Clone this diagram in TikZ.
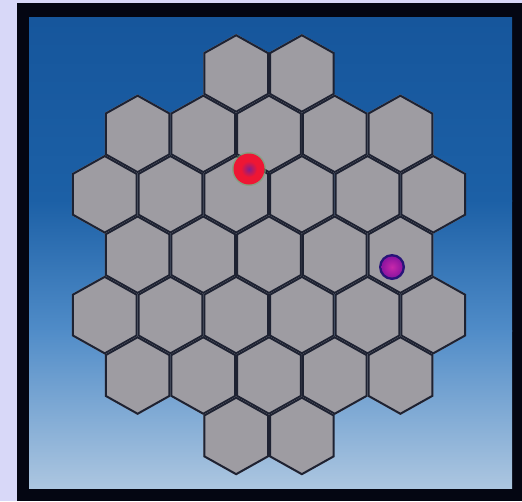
\documentclass[tikz,border=0pt]{standalone}
\begin{document}
\begin{tikzpicture}[x=1pt,y=-1pt]
\definecolor{lav}{RGB}{216,216,248}
\definecolor{framec}{RGB}{4,6,18}
\definecolor{bgA}{RGB}{22,86,156}
\definecolor{bgB}{RGB}{28,96,166}
\definecolor{bgC}{RGB}{80,140,200}
\definecolor{bgD}{RGB}{172,198,224}
\definecolor{hexfill}{RGB}{158,156,162}
\definecolor{hexline}{RGB}{30,34,50}
\definecolor{dotred}{RGB}{238,22,52}
\definecolor{dotredc}{RGB}{130,30,140}
\definecolor{halo}{RGB}{120,160,110}
\definecolor{dotring}{RGB}{40,20,120}
\definecolor{dotpur}{RGB}{140,20,160}
\definecolor{dotpurc}{RGB}{200,40,170}
\tikzset{hexcell/.style={fill=hexfill,draw=hexline,line width=4pt,line join=miter}}
\def\hexpathat(#1,#2){(#1,#2) ++(0,-39.4) -- ++(32.85,18.4) -- ++(0,42)
      -- ++(-32.85,18.4) -- ++(-32.85,-18.4) -- ++(0,-42) -- cycle}
\useasboundingbox (0,0) rectangle (522,501);
\fill[lav] (0,0) rectangle (522,501);
\fill[framec] (17,3) rectangle (522,501);
\shade[top color=bgA,bottom color=bgB] (29,17) rectangle (512,201);
\shade[top color=bgB,bottom color=bgC] (29,200) rectangle (512,331);
\shade[top color=bgC,bottom color=bgD] (29,330) rectangle (512,488);
\foreach \n [count=\i from 0] in {2,5,6,5,6,5,2} {
  \pgfmathsetmacro\yc{73.5+60.4*\i}
  \foreach \k in {1,...,\n} {
    \pgfmathsetmacro\xc{269+65.7*(\k-(\n+1)/2)}
    \begin{scope}
      \clip \hexpathat(\xc,\yc);
      \draw[hexcell] \hexpathat(\xc,\yc);
    \end{scope}
  }
}
% red dot
\fill[halo,opacity=0.6] (249,169) circle (17);
\fill[dotred] (249,169) circle (15.5);
\shade[inner color=dotredc,outer color=dotred] (249,169) circle (8);
% purple dot
\fill[dotring] (392,267) circle (13);
\shade[inner color=dotpurc,outer color=dotpur] (392,267) circle (10.5);
\end{tikzpicture}
\end{document}
